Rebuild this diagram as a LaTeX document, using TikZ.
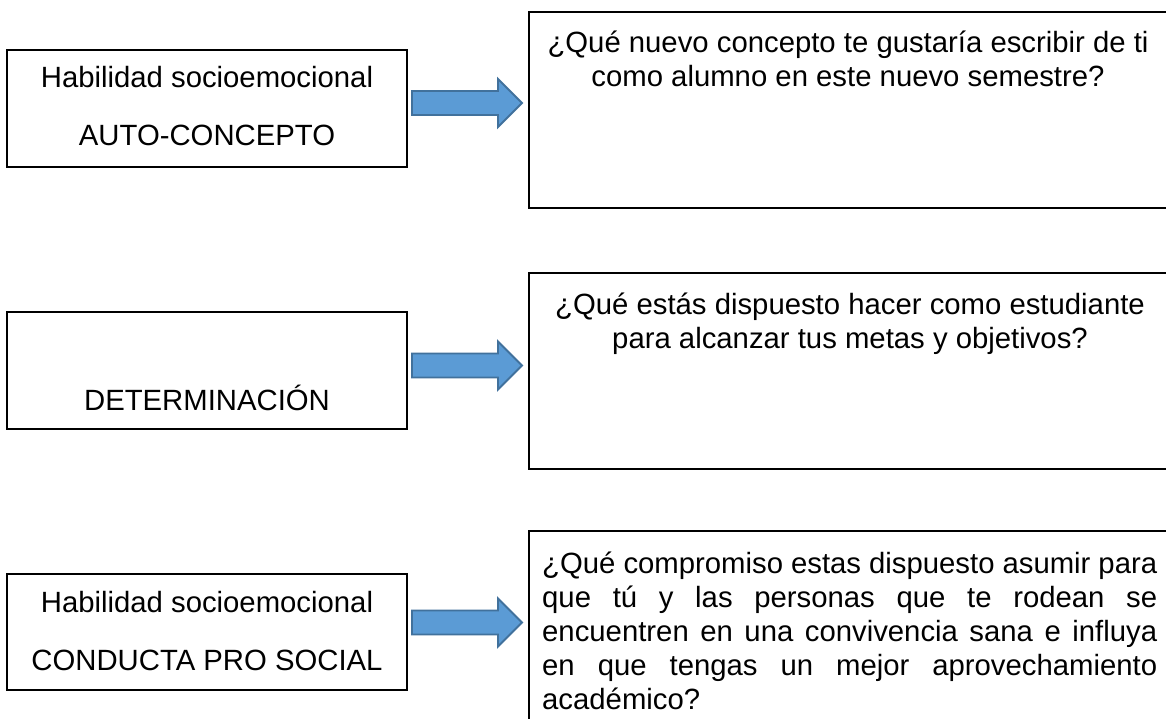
\documentclass[tikz,border=0pt]{standalone}
\usepackage{fontspec}
\setmainfont{Liberation Sans}
\definecolor{arrfill}{HTML}{5B9BD5}
\definecolor{arrline}{HTML}{41719C}
\tikzset{
  box/.style={draw=black, line width=1.8pt, rectangle, inner sep=0pt, outer sep=0pt, anchor=north west},
  txt/.style={inner sep=0pt, anchor=base, font=\fontsize{29.3}{33.7}\selectfont},
  txtl/.style={txt, anchor=base west},
  arrowstyle/.style={fill=arrfill, draw=arrline, line width=1.9pt, line join=miter},
  blockarrow/.pic={\draw[arrowstyle] (0,-12) -- (86,-12) -- (86,-24) -- (110,0) -- (86,24) -- (86,12) -- (0,12) -- cycle;}
}
\begin{document}
\begin{tikzpicture}[x=1pt,y=-1pt]
\useasboundingbox (0,0) rectangle (1166,719);
\clip (0,0) rectangle (1166,719);
\fill[white] (0,0) rectangle (1166,719);
% left boxes
\node[box, minimum width=400pt, minimum height=117pt] (l1) at (7,50) {};
\node[box, minimum width=400pt, minimum height=117pt] (l2) at (7,312) {};
\node[box, minimum width=400pt, minimum height=116pt] (l3) at (7,574) {};
% right boxes
\node[box, minimum width=660pt, minimum height=196pt] (r1) at (529,12) {};
\node[box, minimum width=660pt, minimum height=196pt] (r2) at (529,273) {};
\node[box, minimum width=660pt, minimum height=240pt] (r3) at (529,531) {};
% left texts
\node[txt] (l1a) at (207,88) {Habilidad socioemocional};
\node[txt] (l1b) at (207,146) {AUTO-CONCEPTO};
\node[txt] (l2b) at (207,410) {DETERMINACIÓN};
\node[txt] (l3a) at (207,612) {Habilidad socioemocional};
\node[txt] (l3b) at (207,670) {CONDUCTA PRO SOCIAL};
% arrows
\pic (a1) at (412,103) {blockarrow};
\pic (a2) at (412,365.5) {blockarrow};
\pic (a3) at (412,622.5) {blockarrow};
% right texts
\node[txt] (r1a) at (848,53) {¿Qué nuevo concepto te gustaría escribir de ti};
\node[txt] (r1b) at (848,87) {como alumno en este nuevo semestre?};
\node[txt] (r2a) at (850,314) {¿Qué estás dispuesto hacer como estudiante};
\node[txt] (r2b) at (850,348) {para alcanzar tus metas y objetivos?};
\node[txtl] (r3a) at (542,573) {\makebox[615pt][s]{¿Qué compromiso estas dispuesto asumir para}};
\node[txtl] (r3b) at (542,607) {\makebox[615pt][s]{que tú y las personas que te rodean se}};
\node[txtl] (r3c) at (542,641) {\makebox[615pt][s]{encuentren en una convivencia sana e influya}};
\node[txtl] (r3d) at (542,675) {\makebox[615pt][s]{en que tengas un mejor aprovechamiento}};
\node[txtl] (r3e) at (542,709) {académico?};
\end{tikzpicture}
\end{document}
